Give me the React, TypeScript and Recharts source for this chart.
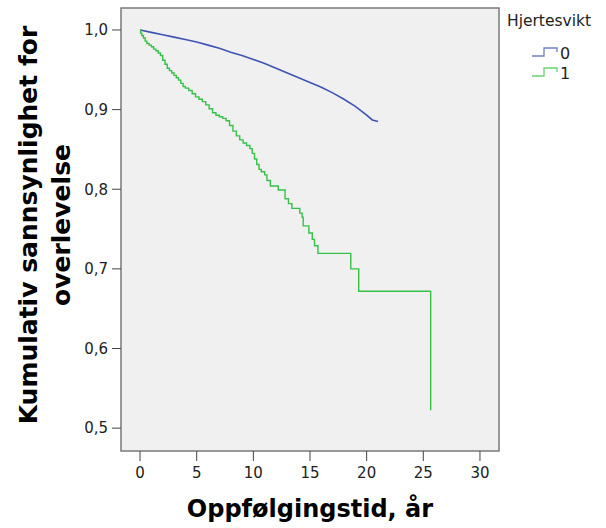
import React from 'react';
import { LineChart, Line, XAxis, YAxis, ReferenceArea } from 'recharts';

// follow-up time (years) and cumulative survival, no heart failure (0)
const timeNoHF = [0, 1, 2, 3, 4, 5, 6, 7, 8, 9, 10, 11, 12, 13, 14, 15, 16, 17, 18, 19, 20, 20.5, 21];
const survNoHF = [1.0, 0.997, 0.994, 0.991, 0.988, 0.985, 0.981, 0.977, 0.972, 0.968, 0.963, 0.958, 0.952, 0.946, 0.940, 0.934, 0.928, 0.921, 0.913, 0.904, 0.893, 0.887, 0.885];

// heart failure (1), step times
const timeHF = [
  0, 0.05, 0.15, 0.3, 0.45, 0.6, 0.8, 1.0, 1.2, 1.4, 1.6, 1.8, 2.0, 2.2, 2.4, 2.6, 2.8, 3.0, 3.2, 3.4, 3.6, 3.8,
  4.0, 4.3, 4.6, 4.9, 5.2, 5.5, 5.8, 6.1, 6.4, 6.7, 7.0, 7.3, 7.6, 7.9, 8.2, 8.5, 8.8, 9.1, 9.4, 9.7, 9.9,
  10.1, 10.3, 10.5, 10.7, 11.0, 11.2, 11.5, 12.2, 12.8, 13.1, 13.4, 14.1, 14.3, 14.4, 14.9, 15.2, 15.4, 15.7,
  18.6, 19.3, 25.65,
];
const survHF = [
  1.0, 0.996, 0.993, 0.990, 0.986, 0.983, 0.981, 0.979, 0.976, 0.974, 0.971, 0.968, 0.962, 0.957, 0.952, 0.949,
  0.946, 0.943, 0.940, 0.937, 0.933, 0.929, 0.927, 0.924, 0.920, 0.916, 0.913, 0.910, 0.906, 0.901, 0.896, 0.893,
  0.891, 0.889, 0.886, 0.880, 0.873, 0.867, 0.862, 0.858, 0.855, 0.851, 0.845, 0.838, 0.831, 0.825, 0.822, 0.818,
  0.811, 0.804, 0.799, 0.788, 0.782, 0.776, 0.770, 0.765, 0.754, 0.745, 0.737, 0.729, 0.7195, 0.700, 0.672, 0.5226,
];

const xTicks = [0, 5, 10, 15, 20, 25, 30];
const yTicks = [0.5, 0.6, 0.7, 0.8, 0.9, 1.0];
const groups = ['0', '1'];

const xDomain = [-1.68, 31.68];
const yDomain = [0.4713, 1.0276];

const BLUE = '#3e54b4';
const GREEN = '#35c147';
const FONT = '"DejaVu Sans", sans-serif';

const noHF = timeNoHF.map((t, i) => ({ t, surv: survNoHF[i] }));
const hf = timeHF.map((t, i) => ({ t, surv: survHF[i] }));

const fmt = (v: number) => v.toFixed(1).replace('.', ',');

function LegendIcon({ color }: { color: string }) {
  return (
    <svg width={26} height={12} style={{ display: 'block' }}>
      <polyline points="0,9 12,9 12,1 25,1 25,5" fill="none" stroke={color} strokeWidth={1.3} strokeOpacity={0.75} />
    </svg>
  );
}

export default function App() {
  const colors = [BLUE, GREEN];
  return (
    <div style={{ position: 'absolute', left: 0, top: 0, width: 606, height: 528, background: '#fff' }}>
      <LineChart width={606} height={528} margin={{ top: 8, right: 107, left: 61, bottom: 0 }}>
        <XAxis
          dataKey="t"
          type="number"
          domain={xDomain}
          ticks={xTicks}
          allowDataOverflow
          height={77}
          axisLine={false}
          tickSize={10}
          tickMargin={6}
          tickLine={{ stroke: '#444' }}
          tick={{ fill: '#222', fontSize: 15, fontFamily: FONT }}
          label={{
            content: () => (
              <text x={310} y={517} textAnchor="middle" fontFamily={FONT} fontWeight="bold" fontSize={24} fill="#000">
                Oppfølgingstid, år
              </text>
            ),
          }}
        />
        <YAxis
          type="number"
          domain={yDomain}
          ticks={yTicks}
          allowDataOverflow
          width={60}
          axisLine={false}
          tickSize={9}
          tickMargin={4}
          tickFormatter={fmt}
          tickLine={{ stroke: '#444' }}
          tick={{ fill: '#222', fontSize: 15, fontFamily: FONT }}
        />
        <ReferenceArea
          x1={xDomain[0]}
          x2={xDomain[1]}
          y1={yDomain[0]}
          y2={yDomain[1]}
          fill="#f0f0f0"
          fillOpacity={1}
          stroke="#7a7a7a"
          strokeWidth={1.5}
        />
        <Line data={noHF} dataKey="surv" type="linear" stroke={BLUE} strokeWidth={1.6} dot={false} isAnimationActive={false} />
        <Line data={hf} dataKey="surv" type="stepAfter" stroke={GREEN} strokeWidth={1.4} dot={false} isAnimationActive={false} />
      </LineChart>
      <svg width={606} height={528} style={{ position: 'absolute', left: 0, top: 0, pointerEvents: 'none' }}>
        <text transform="rotate(-90 37 225)" x={37} y={225} textAnchor="middle" fontFamily={FONT} fontWeight="bold" fontSize={25} fill="#000">
          Kumulativ sannsynlighet for
        </text>
        <text transform="rotate(-90 70 225)" x={70} y={225} textAnchor="middle" fontFamily={FONT} fontWeight="bold" fontSize={25} fill="#000">
          overlevelse
        </text>
      </svg>
      <div style={{ position: 'absolute', left: 507, top: 12, fontFamily: FONT, fontSize: 15.5, color: '#222' }}>
        <div style={{ marginBottom: 13 }}>Hjertesvikt</div>
        {groups.map((g, i) => (
          <div key={g} style={{ display: 'flex', alignItems: 'center', marginLeft: 25, height: 20, fontSize: 16 }}>
            <LegendIcon color={colors[i]} />
            <span style={{ marginLeft: 2 }}>{g}</span>
          </div>
        ))}
      </div>
    </div>
  );
}
